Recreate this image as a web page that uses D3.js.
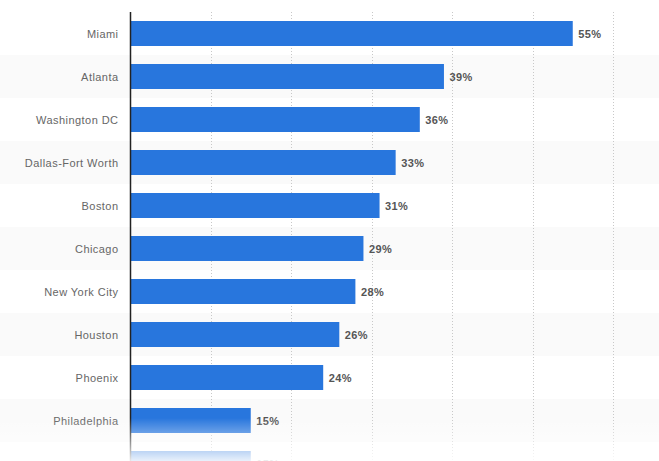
<!DOCTYPE html>
<html><head><meta charset="utf-8">
<script src="https://cdn.jsdelivr.net/npm/d3@7"></script>
<style>body{margin:0;background:#fff;}svg{display:block;}</style>
</head><body>
<script>
const categories = ["Miami","Atlanta","Washington DC","Dallas-Fort Worth","Boston","Chicago","New York City","Houston","Phoenix","Philadelphia",""];
const values = [55,39,36,33,31,29,28,26,24,15,15];
const xTicks = [0,10,20,30,40,50,60,70];

const W = 659, H = 461;
const svg = d3.select("body").append("svg").attr("width", W).attr("height", H);

const x = d3.scaleLinear().domain([0,70]).range([130, 693.5]);
const y = d3.scaleBand().domain(d3.range(categories.length)).range([12, 12 + 43*categories.length]).paddingInner(0).paddingOuter(0);

// stripes
svg.append("g").selectAll("rect").data(d3.range(categories.length).filter(i => i % 2 === 1))
  .enter().append("rect")
  .attr("x", 0).attr("width", W)
  .attr("y", i => y(i)).attr("height", y.bandwidth())
  .attr("fill", "#fafafa");

// gridlines
svg.append("g").selectAll("line").data(xTicks.filter(t => t > 0))
  .enter().append("line")
  .attr("x1", d => Math.round(x(d)) + 0.5).attr("x2", d => Math.round(x(d)) + 0.5)
  .attr("y1", 12).attr("y2", H)
  .attr("stroke", "#c8c8c8").attr("stroke-width", 1).attr("stroke-dasharray", "1,2");

// bars
const barH = 25;
svg.append("g").selectAll("rect").data(values)
  .enter().append("rect")
  .attr("x", x(0)).attr("width", d => x(d) - x(0))
  .attr("y", (d,i) => y(i) + (y.bandwidth() - barH)/2).attr("height", barH)
  .attr("fill", "#2876dd");

// value labels
svg.append("g").selectAll("text").data(values)
  .enter().append("text")
  .attr("x", d => x(d) + 5.5).attr("y", (d,i) => y(i) + y.bandwidth()/2 + 1)
  .attr("dy", "0.35em")
  .attr("font-family", "Liberation Sans, Arial, sans-serif").attr("font-size", 11).attr("font-weight", "bold")
  .attr("fill", "#555").attr("letter-spacing", "0.4")
  .text(d => d + "%");

// category axis
const yAxis = d3.axisLeft(d3.scaleBand().domain(categories.map((c,i)=>i)).range(y.range()))
  .tickSize(0).tickPadding(12).tickFormat(i => categories[i]);
const gAxis = svg.append("g").attr("transform", "translate(130.5,1)").call(yAxis);
gAxis.select(".domain").remove();
gAxis.selectAll("text").attr("font-family", "Liberation Sans, Arial, sans-serif").attr("font-size", 11)
  .attr("fill", "#666").attr("letter-spacing", "0.45");
svg.append("line").attr("x1", 130.5).attr("x2", 130.5).attr("y1", 12).attr("y2", H)
  .attr("stroke", "#222").attr("stroke-width", 1.5);

// bottom fade
const defs = svg.append("defs");
const grad = defs.append("linearGradient").attr("id", "fade").attr("x1", 0).attr("x2", 0).attr("y1", 0).attr("y2", 1);
grad.append("stop").attr("offset", "0%").attr("stop-color", "#fff").attr("stop-opacity", 0);
grad.append("stop").attr("offset", "100%").attr("stop-color", "#fff").attr("stop-opacity", 1);
svg.append("rect").attr("x", 0).attr("y", 418).attr("width", W).attr("height", 48).attr("fill", "url(#fade)");
</script>
</body></html>
